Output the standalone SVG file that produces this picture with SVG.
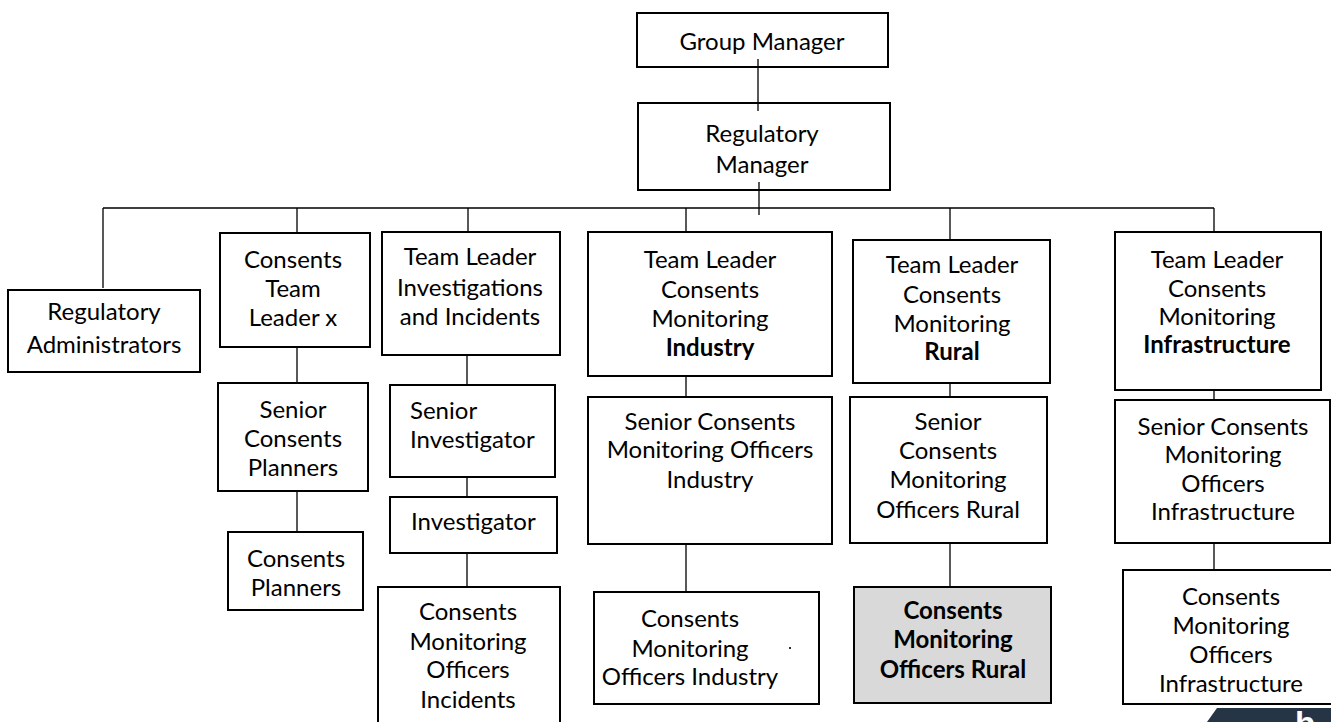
<svg xmlns="http://www.w3.org/2000/svg" width="1331" height="722" viewBox="0 0 1331 722">
<style>
.box{fill:#fff;stroke:#000;stroke-width:2}
.grey{fill:#d9d9d9;stroke:#000;stroke-width:2}
.con{stroke:#000;stroke-width:1.3;fill:none}
text{font-family:Lato,"Liberation Sans",sans-serif;font-size:24px;fill:#000;text-anchor:middle}
.b{font-weight:bold}
.l{text-anchor:start}
</style>
<rect width="1331" height="722" fill="#fff"/>
<g id="group-manager"><rect class="box" x="637" y="13" width="251" height="54"/><text x="762" y="50">Group Manager</text></g>
<g id="regulatory-manager"><rect class="box" x="638" y="103" width="252" height="87"/><text x="762" y="142">Regulatory</text><text x="762" y="173">Manager</text></g>
<g id="regulatory-administrators"><rect class="box" x="8" y="290" width="192" height="82"/><text x="104" y="320">Regulatory</text><text x="104" y="353">Administrators</text></g>
<g id="consents-team-leader"><rect class="box" x="220" y="233" width="150" height="114"/><text x="293" y="268">Consents</text><text x="293" y="297">Team</text><text x="293" y="326">Leader x</text></g>
<g id="senior-consents-planners"><rect class="box" x="218" y="383" width="150" height="108"/><text x="293" y="418">Senior</text><text x="293" y="447">Consents</text><text x="293" y="476">Planners</text></g>
<g id="consents-planners"><rect class="box" x="228" y="532" width="135" height="78"/><text x="296" y="567">Consents</text><text x="296" y="596">Planners</text></g>
<g id="team-leader-investigations"><rect class="box" x="382" y="232" width="178" height="123"/><text x="470" y="265">Team Leader</text><text x="470" y="296">Investigations</text><text x="470" y="325">and Incidents</text></g>
<g id="senior-investigator"><rect class="box" x="390" y="385" width="165" height="92"/><text class="l" x="410" y="419">Senior</text><text class="l" x="410" y="448">Investigator</text></g>
<g id="investigator"><rect class="box" x="390" y="497" width="167" height="56"/><text class="l" x="411" y="530">Investigator</text></g>
<g id="cmo-incidents"><rect class="box" x="378" y="587" width="182" height="160"/><text x="468" y="620">Consents</text><text x="468" y="650">Monitoring</text><text x="468" y="678">Officers</text><text x="468" y="708">Incidents</text></g>
<g id="team-leader-industry"><rect class="box" x="588" y="232" width="244" height="144"/><text x="710" y="268">Team Leader</text><text x="710" y="298">Consents</text><text x="710" y="327">Monitoring</text><text class="b" x="710" y="356">Industry</text></g>
<g id="senior-cmo-industry"><rect class="box" x="588" y="397" width="244" height="147"/><text x="710" y="430">Senior Consents</text><text x="710" y="458">Monitoring Officers</text><text x="710" y="488">Industry</text></g>
<g id="cmo-industry"><rect class="box" x="594" y="592" width="225" height="112"/><text x="690" y="627">Consents</text><text x="690" y="657">Monitoring</text><text x="690" y="685">Officers Industry</text><circle cx="790" cy="648" r="1.1" fill="#000"/></g>
<g id="team-leader-rural"><rect class="box" x="853" y="240" width="197" height="143"/><text x="952" y="273">Team Leader</text><text x="952" y="303">Consents</text><text x="952" y="332">Monitoring</text><text class="b" x="952" y="360">Rural</text></g>
<g id="senior-cmo-rural"><rect class="box" x="850" y="397" width="197" height="146"/><text x="948" y="430">Senior</text><text x="948" y="459">Consents</text><text x="948" y="488">Monitoring</text><text x="948" y="518">Officers Rural</text></g>
<g id="cmo-rural"><rect class="grey" x="854" y="587" width="197" height="116"/><text class="b" x="953" y="619">Consents</text><text class="b" x="953" y="648">Monitoring</text><text class="b" x="953" y="678">Officers Rural</text></g>
<g id="team-leader-infrastructure"><rect class="box" x="1115" y="232" width="206" height="158"/><text x="1217" y="268">Team Leader</text><text x="1217" y="297">Consents</text><text x="1217" y="325">Monitoring</text><text class="b" x="1217" y="353">Infrastructure</text></g>
<g id="senior-cmo-infrastructure"><rect class="box" x="1115" y="400" width="215" height="143"/><text x="1223" y="435">Senior Consents</text><text x="1223" y="463">Monitoring</text><text x="1223" y="492">Officers</text><text x="1223" y="520">Infrastructure</text></g>
<g id="cmo-infrastructure"><rect class="box" x="1123" y="570" width="220" height="134"/><text x="1231" y="605">Consents</text><text x="1231" y="634">Monitoring</text><text x="1231" y="663">Officers</text><text x="1231" y="692">Infrastructure</text></g>
<g id="connectors">
<path class="con" d="M758 59V111 M759 182V215 M103 208H1214 M103 208V288 M297 208V233 M468 208V232 M686 208V232 M950 208V240 M1214 208V232 M297 347V383 M297 491V532 M467 355V385 M467 477V497 M467 553V587 M686 376V397 M686 544V592 M950 383V397 M950 543V587 M1214 390V400 M1214 543V570"/>
</g>
<g id="logo"><polygon points="1207,722 1217,708 1331,708 1331,722" fill="#253546"/><text x="1295" y="735" style="fill:#fff;font-family:'Liberation Sans',sans-serif;font-weight:bold;font-size:33px;text-anchor:start">b</text></g>
</svg>
